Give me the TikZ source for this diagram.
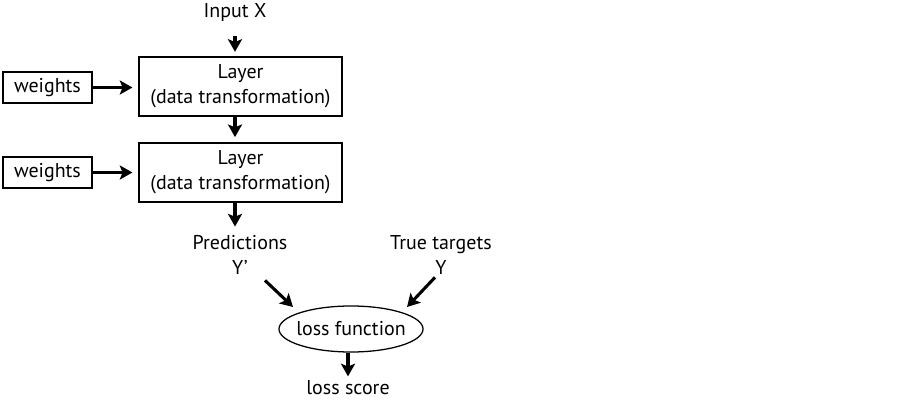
\documentclass[tikz,border=0pt]{standalone}
\usepackage{fontspec}
\setmainfont{PT Sans}
\usepackage{tikz}
\usetikzlibrary{arrows.meta,shapes.geometric,calc}

\tikzset{
  layerbox/.style={draw,line width=1.3pt,minimum width=5.075cm,minimum height=1.475cm,align=center,inner sep=0pt},
  wbox/.style={draw,line width=1.3pt,minimum width=2.225cm,minimum height=0.775cm,inner sep=0pt},
  label/.style={align=center,inner sep=1pt},
  arr/.style={-{Stealth[length=9pt,width=10pt,inset=2pt]},line width=2.2pt},
}

\begin{document}
\begin{tikzpicture}[x=0.025cm,y=-0.025cm,font=\fontsize{14.2}{18}\selectfont]
\useasboundingbox (0,0) rectangle (902,406);
% input and layers
\node[label] (inp) at (235,13) {Input X};
\node[layerbox] (l1) at (240.5,86.5) {Layer\\(data transformation)};
\node[layerbox] (l2) at (240.5,172.5) {Layer\\(data transformation)};
\node[wbox] (w1) at (47.5,87.5) {weights};
\node[wbox] (w2) at (47.5,172.5) {weights};
% outputs
\node[label] (pred) at (240,255) {Predictions\\Y’};
\node[label] (truet) at (441,255) {True targets\\Y};
\node[draw,ellipse,line width=0.9pt,minimum width=3.6cm,minimum height=1.15cm,inner xsep=-8pt,inner ysep=0pt] (loss) at (351,329) {loss function};
\node[label] (score) at (348,388) {loss score};
% connectors
\draw[arr,shorten <=9pt,shorten >=3pt] (inp.south) -- (inp.south |- l1.north);
\draw[arr,shorten >=3.5pt] (l1.south -| inp) -- (l2.north -| inp);
\draw[arr,shorten >=4pt] (w1.east) -- (w1.east -| l1.west);
\draw[arr,shorten >=4pt] (w2.east) -- (w2.east -| l2.west);
\draw[arr,shorten >=5pt] (l2.south -| inp) -- (pred.north -| inp);
\draw[arr] ($(pred.south)+(25,4)$) -- ($(loss.center)+(-58,-22)$);
\draw[arr] ($(truet.south)+(-6,1)$) -- ($(loss.center)+(56,-22)$);
\draw[arr,shorten >=2pt] (loss.south -| score) -- (score.north);
\end{tikzpicture}
\end{document}
